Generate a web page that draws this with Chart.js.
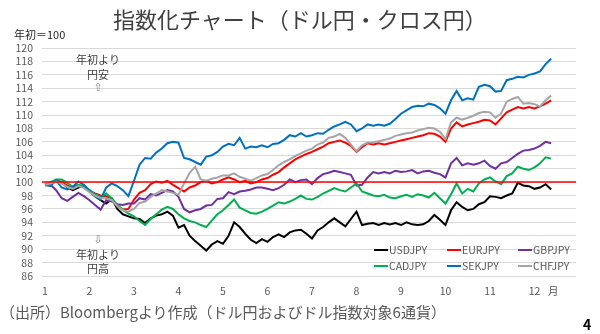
<!DOCTYPE html>
<html lang="ja">
<head>
<meta charset="utf-8">
<script src="https://cdn.jsdelivr.net/npm/chart.js@4"></script>
<style>
html,body{margin:0;padding:0;background:#fff;}
#wrap{position:relative;width:600px;height:334px;overflow:hidden;font-family:"Noto Sans CJK JP","Noto Sans",sans-serif;}
#c{position:absolute;left:0;top:0;}
.t{position:absolute;white-space:nowrap;line-height:1;}
.note{font-size:11px;color:#404040;width:60px;text-align:center;left:68px;}
.arrow{font-size:11px;color:#8c8c8c;width:60px;text-align:center;left:68px;font-family:"DejaVu Sans",sans-serif;}
.lg{position:absolute;font-size:10.5px;color:#595959;line-height:1;white-space:nowrap;}
.lg span{display:inline-block;width:14px;height:2px;vertical-align:middle;margin-right:1px;position:relative;top:-1px;}
</style>
</head>
<body>
<div id="wrap">
<canvas id="c" width="600" height="334"></canvas>
<div class="t" style="left:0;width:600px;text-align:center;top:7px;font-size:22px;color:#404040;">指数化チャート（ドル円・クロス円）</div>
<div class="t" style="left:14px;top:29px;font-size:11px;color:#262626;">年初＝100</div>
<div class="t note" style="top:54px;">年初より</div>
<div class="t note" style="top:69px;">円安</div>
<div class="t arrow" style="top:82px;">⇧</div>
<div class="t arrow" style="top:234px;">⇩</div>
<div class="t note" style="top:249px;">年初より</div>
<div class="t note" style="top:263px;">円高</div>
<div class="t" style="left:0;top:304px;font-size:15px;color:#595959;">（出所）Bloombergより作成（ドル円およびドル指数対象6通貨）</div>
<div class="t" style="left:583px;top:317px;font-size:14px;font-weight:bold;color:#000;">4</div>
<div id="legend"></div>
</div>
<script>
// sampling positions (month units: 1 = start of Jan)
const dates = [
 1.000,1.125,1.250,1.375,1.500,1.625,1.750,1.875,
 2.000,2.125,2.250,2.375,2.500,2.625,2.750,2.875,
 3.000,3.125,3.250,3.375,3.500,3.625,3.750,3.875,
 4.000,4.125,4.250,4.375,4.500,4.625,4.750,4.875,
 5.000,5.125,5.250,5.375,5.500,5.625,5.750,5.875,
 6.000,6.125,6.250,6.375,6.500,6.625,6.750,6.875,
 7.000,7.125,7.250,7.375,7.500,7.625,7.750,7.875,
 8.000,8.125,8.250,8.375,8.500,8.625,8.750,8.875,
 9.000,9.125,9.250,9.375,9.500,9.625,9.750,9.875,
 10.000,10.125,10.250,10.375,10.500,10.625,10.750,10.875,
 11.000,11.125,11.250,11.375,11.500,11.625,11.750,11.875,
 12.000,12.125,12.250,12.375];

const seriesNames = ['USDJPY','EURJPY','GBPJPY','CADJPY','SEKJPY','CHFJPY'];

const usdjpy = [
 99.6,99.8,100.2,100.0,99.2,98.8,99.2,99.5,
 98.6,97.9,97.3,96.8,97.5,96.0,95.2,94.9,
 94.6,94.5,93.9,94.6,95.0,95.2,95.6,95.0,
 93.2,93.6,92.0,91.2,90.5,89.8,90.7,91.2,
 90.8,92.0,94.0,93.3,92.3,91.4,90.9,91.5,
 91.1,91.8,92.2,91.8,92.5,92.8,92.9,92.3,
 91.6,92.8,93.3,94.0,94.6,94.0,93.4,94.5,
 95.6,93.6,93.8,93.9,93.6,93.9,93.7,93.9,
 93.6,94.0,93.7,93.6,93.7,94.2,95.1,94.4,
 93.6,95.8,97.0,96.3,95.8,96.0,96.7,97.0,
 97.9,97.8,97.6,98.0,98.3,99.9,99.5,99.4,
 99.0,99.2,99.7,98.9];

const eurjpy = [
 99.7,99.9,100.2,100.0,99.5,99.2,99.5,99.3,
 98.7,98.3,98.0,97.9,97.6,96.4,95.9,96.0,
 97.4,98.4,98.8,99.7,100.1,99.9,100.2,99.6,
 99.1,98.6,99.2,99.5,100.0,100.2,99.8,100.0,
 100.4,100.7,100.4,100.0,100.2,99.8,100.0,100.4,
 100.6,101.1,101.5,102.2,102.8,103.4,103.8,104.2,
 104.5,104.9,105.3,105.8,106.0,106.2,105.9,105.4,
 104.5,105.2,105.8,105.6,105.8,105.6,105.8,106.0,
 106.2,106.4,106.6,106.8,107.0,107.3,107.2,106.8,
 106.0,108.0,108.9,108.3,108.6,108.8,109.0,109.3,
 109.2,108.6,109.5,110.4,110.8,111.2,111.0,111.2,
 111.0,111.3,111.7,112.2];

const gbpjpy = [
 99.5,99.6,98.8,97.6,97.2,97.8,98.4,97.9,
 97.3,96.6,95.9,97.3,97.1,96.7,96.6,96.8,
 96.8,97.6,97.4,98.2,98.0,98.4,98.8,98.6,
 97.8,96.0,95.5,95.8,96.0,96.5,96.6,97.5,
 97.6,98.5,98.2,98.6,98.7,98.9,99.2,99.2,
 99.0,98.8,99.1,99.6,100.4,100.0,100.3,100.4,
 99.7,100.6,101.2,101.4,101.7,101.5,101.3,101.1,
 99.5,99.6,100.7,101.5,101.3,101.5,101.3,101.7,
 101.5,101.6,101.8,101.3,101.6,101.7,101.4,101.2,
 100.7,102.8,103.6,102.5,102.8,102.6,102.8,103.2,
 102.4,102.0,102.8,103.0,103.6,104.2,104.7,104.8,
 105.0,105.4,106.0,105.8];

const cadjpy = [
 99.6,100.0,100.4,100.4,99.9,99.3,99.6,99.4,
 98.8,98.2,97.8,98.3,97.6,96.6,95.9,95.3,
 94.9,94.2,93.6,94.5,95.2,95.9,96.3,96.0,
 95.2,94.6,94.2,94.0,93.6,93.3,94.3,95.2,
 95.8,96.6,97.4,96.2,95.8,95.4,95.3,95.6,
 96.0,96.5,97.0,96.8,97.1,97.5,98.0,97.5,
 97.4,97.8,98.3,98.7,99.1,98.8,98.6,99.2,
 99.8,98.6,98.3,98.0,97.9,98.1,97.7,97.6,
 97.9,98.1,97.8,98.2,98.0,97.7,98.4,97.6,
 96.8,98.2,99.8,98.3,99.0,98.6,99.8,100.4,
 100.7,100.1,99.7,100.9,101.3,102.3,102.0,101.8,
 102.2,102.8,103.7,103.5];

const sekjpy = [
 99.6,99.4,100.3,99.2,98.9,99.3,100.1,99.6,
 98.7,97.9,97.4,99.2,99.8,99.4,98.8,97.9,
 100.2,102.6,103.6,103.5,104.4,105.0,105.8,106.0,
 105.9,103.6,103.4,103.0,102.6,103.8,104.0,104.5,
 105.3,105.7,105.5,106.6,105.0,105.3,105.2,105.5,
 105.2,105.7,105.8,106.3,107.0,106.8,107.3,106.8,
 107.0,107.3,107.2,107.8,108.3,108.6,109.0,108.6,
 107.6,108.0,108.6,108.4,108.6,108.4,108.7,109.4,
 110.2,110.7,111.2,111.4,111.3,111.7,111.5,111.0,
 110.2,112.2,113.6,112.2,112.5,112.3,114.2,114.5,
 114.3,113.5,113.6,115.2,115.4,115.7,115.6,116.0,
 116.2,116.5,117.6,118.4];

const chfjpy = [
 99.6,99.8,100.1,99.8,99.3,99.0,99.4,99.1,
 98.5,98.0,97.6,97.6,97.3,96.4,95.8,95.6,
 96.0,96.9,97.1,97.8,98.3,98.8,98.6,98.4,
 98.1,99.8,101.4,102.3,100.4,100.2,100.5,100.7,
 101.0,101.0,101.3,100.8,100.5,100.2,100.6,101.0,
 101.2,101.8,102.5,103.0,103.4,103.9,104.3,104.7,
 105.0,105.6,105.9,106.6,106.8,107.2,106.6,105.6,
 104.6,105.5,105.9,105.9,106.1,106.3,106.5,106.9,
 107.1,107.3,107.4,107.7,107.9,108.1,108.0,107.5,
 106.4,108.9,109.6,109.3,109.6,109.9,110.3,110.5,
 110.4,109.6,110.2,112.0,112.4,112.7,111.7,111.8,
 111.6,111.3,112.2,112.9];

const baseLevel = 100;
const monthTicks = [1,2,3,4,5,6,7,8,9,10,11,12,12.42];
const monthLabels = ['1','2','3','4','5','6','7','8','9','10','11','12','月'];
const yMin = 86, yMax = 120, yStep = 2;
const xMin = 0.933, xMax = 12.933;

const seriesValues = [usdjpy, eurjpy, gbpjpy, cadjpy, sekjpy, chfjpy];
const seriesColors = ['#000000','#ff0000','#7030a0','#00b050','#0070c0','#a5a5a5'];

const toPts = arr => dates.map((d,i)=>({x:d, y:arr[i]}));

const datasets = seriesNames.map((name,i)=>({
  label: name,
  data: toPts(seriesValues[i]),
  borderColor: seriesColors[i],
  backgroundColor: seriesColors[i],
  borderWidth: 2,
  pointRadius: 0,
  tension: 0,
  fill: false,
  order: seriesNames.length - i + 1
}));
datasets.push({
  label: 'base',
  data: [{x:xMin, y:baseLevel},{x:xMax, y:baseLevel}],
  borderColor: '#ff0000',
  borderWidth: 1.5,
  pointRadius: 0,
  fill: false,
  order: 0
});

const tickFont = {family: '"Noto Sans CJK JP","Noto Sans",sans-serif', size: 10.5};

new Chart(document.getElementById('c'), {
  type: 'line',
  data: { datasets },
  options: {
    responsive: false,
    devicePixelRatio: 1,
    animation: false,
    layout: { padding: { left: 0, right: 24, top: 48, bottom: 34 } },
    plugins: { legend: { display: false }, tooltip: { enabled: false }, title: { display: false } },
    scales: {
      x: {
        type: 'linear',
        min: xMin, max: xMax,
        grid: { display: false, drawTicks: false },
        border: { display: false },
        afterBuildTicks: s => { s.ticks = monthTicks.map(v => ({value: v})); },
        afterFit: s => { s.height = 24; },
        ticks: {
          autoSkip: false, maxRotation: 0, padding: 9,
          color: '#595959', font: tickFont,
          callback: (v, i) => monthLabels[i]
        }
      },
      y: {
        min: yMin, max: yMax,
        grid: { color: '#d9d9d9', lineWidth: 1, drawTicks: false },
        border: { display: false },
        afterFit: s => { s.width = 42; },
        ticks: { stepSize: yStep, autoSkip: false, padding: 9, color: '#595959', font: tickFont }
      }
    }
  }
});

// legend (HTML, built from the series)
const lgCols = [374, 447, 518];
const lgRows = [245, 261];
const lg = document.getElementById('legend');
seriesNames.forEach((name, i) => {
  const d = document.createElement('div');
  d.className = 'lg';
  d.style.left = lgCols[i % 3] + 'px';
  d.style.top = lgRows[Math.floor(i / 3)] + 'px';
  const s = document.createElement('span');
  s.style.background = seriesColors[i];
  d.appendChild(s);
  d.appendChild(document.createTextNode(name));
  lg.appendChild(d);
});
</script>
</body>
</html>
